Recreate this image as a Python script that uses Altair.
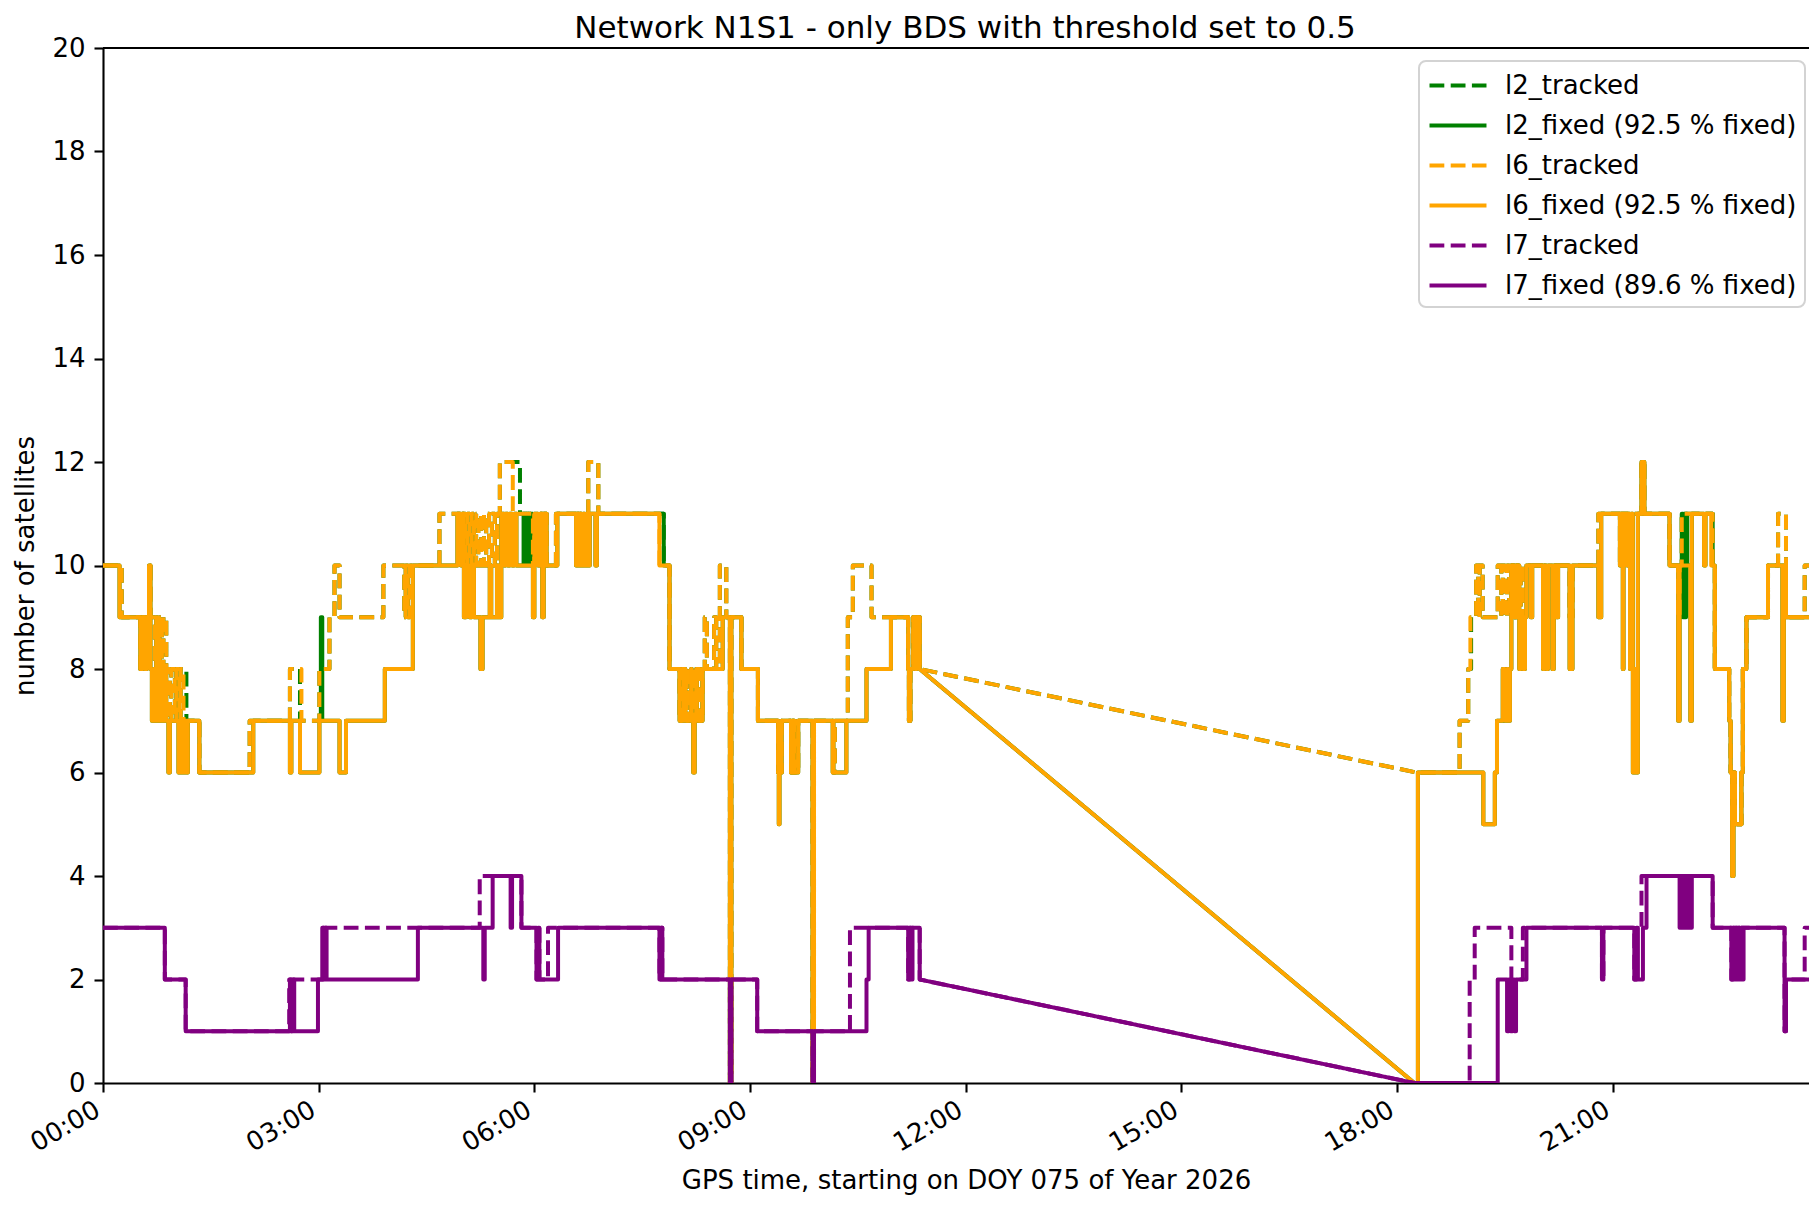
import altair as alt
import pandas as pd

TITLE = "Network N1S1 - only BDS with threshold set to 0.5"
X_TITLE = "GPS time, starting on DOY 075 of Year 2026"
Y_TITLE = "number of satellites"

SERIES = ["l2_tracked", "l2_fixed (92.5 % fixed)", "l6_tracked",
          "l6_fixed (92.5 % fixed)", "l7_tracked", "l7_fixed (89.6 % fixed)"]
COLORS = ["#008000", "#008000", "#ffa500", "#ffa500", "#800080", "#800080"]
DASHES = [[14.8, 6.4], [1, 0], [14.8, 6.4], [1, 0], [14.8, 6.4], [1, 0]]

X_TICKS = [0, 3, 6, 9, 12, 15, 18, 21]
Y_TICKS = list(range(0, 21, 2))
T_END = 23.87          # last epoch (hours)
X_MAX = 23.73          # visible end of the time axis (hours)
MAX_STEP_GAP = 4.0     # longer gaps between epochs are joined by a straight line

# (hour, number of satellites) at each change
L6_FIXED = [
    (0.00, 10), (0.23, 9), (0.52, 8), (0.55, 9), (0.58, 8), (0.61, 9), (0.64, 10), (0.66, 8),
    (0.68, 7), (0.71, 8), (0.73, 7), (0.76, 8), (0.78, 7), (0.81, 8), (0.83, 7), (0.86, 8),
    (0.88, 7), (0.91, 6), (0.93, 7), (1.05, 6), (1.07, 7), (1.11, 6), (1.13, 7), (1.15, 6),
    (1.18, 7), (1.34, 6),
    (2.09, 7), (2.60, 6), (2.62, 7), (2.74, 6), (3.01, 7), (3.29, 6), (3.38, 7), (3.92, 8),
    (4.31, 10), (4.93, 11), (4.98, 10), (5.00, 11), (5.02, 9), (5.05, 10), (5.10, 9), (5.13, 10),
    (5.16, 9), (5.25, 8), (5.28, 9), (5.38, 10), (5.40, 9), (5.48, 10), (5.50, 9), (5.54, 11),
    (5.58, 10), (5.60, 11), (5.63, 10), (5.66, 11), (5.69, 10), (5.72, 11), (5.75, 10), (5.98, 9),
    (6.00, 11), (6.05, 10), (6.08, 11), (6.11, 9), (6.13, 11), (6.17, 10), (6.32, 11),
    (6.58, 10), (6.60, 11), (6.62, 10), (6.64, 11), (6.66, 10), (6.68, 11), (6.70, 10), (6.72, 11),
    (6.74, 10), (6.77, 11), (6.85, 10), (6.87, 11), (7.74, 10), (7.88, 8),
    (8.02, 7), (8.08, 8), (8.10, 7), (8.18, 8), (8.19, 7), (8.21, 6), (8.23, 7), (8.25, 8),
    (8.26, 7), (8.34, 8), (8.62, 9), (8.72, 0), (8.74, 9), (8.88, 8), (9.11, 7), (9.39, 6),
    (9.40, 5), (9.41, 6), (9.44, 7), (9.57, 6), (9.59, 7), (9.61, 6), (9.67, 7), (9.87, 0),
    (9.89, 7), (10.15, 6), (10.34, 7), (10.62, 8), (10.96, 9), (11.20, 8), (11.21, 7), (11.23, 8),
    (11.27, 9), (11.30, 8), (11.32, 9), (11.36, 8),
    (18.24, 0), (18.29, 6), (19.20, 5), (19.36, 6), (19.39, 7), (19.47, 8), (19.50, 7), (19.53, 8),
    (19.55, 7), (19.57, 8), (19.59, 10), (19.63, 9), (19.66, 10), (19.70, 8), (19.72, 9), (19.75, 8),
    (19.78, 9), (19.80, 10), (19.86, 9), (19.88, 10), (20.03, 8), (20.05, 10), (20.08, 8), (20.10, 10),
    (20.16, 8), (20.18, 10), (20.22, 9), (20.24, 10), (20.40, 8), (20.44, 10), (20.80, 9), (20.84, 11),
    (21.10, 10), (21.11, 11), (21.14, 8), (21.15, 11), (21.20, 10), (21.21, 11), (21.24, 8), (21.26, 11),
    (21.28, 6), (21.30, 8), (21.32, 6), (21.35, 11), (21.40, 12), (21.44, 11), (21.79, 10), (21.91, 7),
    (21.93, 10), (22.08, 7), (22.10, 11), (22.27, 10), (22.29, 11), (22.37, 10), (22.42, 8),
    (22.62, 7), (22.64, 6), (22.66, 4), (22.68, 6), (22.70, 5), (22.79, 6), (22.81, 8), (22.86, 9),
    (23.16, 10), (23.36, 7), (23.38, 10), (23.41, 9), (23.80, 10), (23.82, 8), (23.84, 9),
]

L6_TRACKED = [
    (0.00, 10), (0.26, 9), (0.52, 8), (0.55, 9), (0.64, 10), (0.66, 9), (0.72, 8), (0.74, 9),
    (0.77, 8), (0.79, 9), (0.82, 8), (0.84, 9), (0.88, 8), (0.93, 7), (0.95, 8), (1.00, 7),
    (1.02, 8), (1.06, 7), (1.08, 8), (1.12, 7), (1.34, 6),
    (2.04, 7), (2.60, 8), (2.76, 7), (3.01, 8), (3.15, 9), (3.22, 10), (3.29, 9), (3.90, 10),
    (4.19, 9), (4.21, 10), (4.24, 9), (4.27, 10),
    (4.68, 11), (4.96, 10), (5.00, 11), (5.04, 10), (5.07, 11), (5.10, 10), (5.13, 11), (5.16, 10),
    (5.19, 11), (5.22, 10), (5.26, 11), (5.30, 10), (5.33, 11), (5.37, 10), (5.41, 11), (5.45, 10),
    (5.48, 11), (5.52, 12), (5.70, 11), (5.98, 10), (6.00, 11), (6.11, 10), (6.13, 11), (6.17, 10),
    (6.30, 11), (6.75, 12), (6.89, 11), (7.74, 10), (7.88, 8),
    (8.02, 7), (8.05, 8), (8.12, 7), (8.14, 8), (8.21, 7), (8.23, 8), (8.30, 7), (8.34, 8),
    (8.37, 9), (8.40, 8), (8.50, 9), (8.53, 8), (8.58, 10), (8.67, 9), (8.72, 0), (8.74, 9),
    (8.88, 8), (9.11, 7), (9.39, 6), (9.44, 7), (9.57, 6), (9.59, 7), (9.62, 6), (9.67, 7),
    (9.87, 0), (9.89, 7), (10.16, 6), (10.18, 7), (10.36, 9), (10.43, 10), (10.69, 9), (11.20, 8),
    (11.21, 7), (11.23, 8), (11.27, 9), (11.30, 8), (11.32, 9), (11.36, 8),
    (18.27, 6), (18.87, 7), (18.99, 8), (19.02, 9), (19.10, 10), (19.13, 9), (19.15, 10), (19.19, 9),
    (19.40, 10), (19.45, 9), (19.47, 10), (19.50, 9), (19.53, 10), (19.56, 9), (19.59, 10), (19.63, 9),
    (19.66, 10), (19.72, 9), (19.75, 10), (20.03, 9), (20.05, 10), (20.08, 9), (20.10, 10), (20.40, 9),
    (20.44, 10), (20.80, 11), (21.10, 10), (21.12, 11), (21.40, 12), (21.44, 11), (21.79, 10), (21.91, 9),
    (21.93, 10), (21.96, 11), (22.39, 10), (22.42, 8),
    (22.62, 7), (22.64, 6), (22.66, 5), (22.68, 6), (22.70, 5), (22.79, 6), (22.81, 8), (22.86, 9),
    (23.16, 10), (23.30, 11), (23.41, 9), (23.67, 10),
]

L2_FIXED = [
    (0.00, 10), (0.23, 9), (0.52, 8), (0.55, 9), (0.58, 8), (0.61, 9), (0.64, 10), (0.66, 8),
    (0.68, 7), (0.71, 8), (0.73, 7), (0.76, 8), (0.78, 7), (0.81, 8), (0.83, 7), (0.86, 8),
    (0.88, 7), (0.91, 6), (0.93, 7), (1.05, 6), (1.07, 7), (1.11, 6), (1.13, 7), (1.15, 6),
    (1.18, 7), (1.34, 6),
    (2.09, 7), (2.60, 6), (2.62, 7), (2.74, 6), (3.01, 7), (3.03, 9), (3.05, 7), (3.29, 6),
    (3.38, 7), (3.92, 8),
    (4.31, 10), (4.93, 11), (4.98, 10), (5.00, 11), (5.02, 9), (5.05, 10), (5.10, 9), (5.13, 10),
    (5.16, 9), (5.25, 8), (5.28, 9), (5.38, 10), (5.40, 9), (5.48, 10), (5.50, 9), (5.54, 11),
    (5.58, 10), (5.60, 11), (5.63, 10), (5.66, 11), (5.69, 10), (5.72, 11), (5.75, 10),
    (5.85, 11), (5.865, 10), (5.88, 11), (5.895, 10), (5.91, 11), (5.925, 10), (5.94, 11),
    (5.955, 10), (5.97, 11), (5.98, 9),
    (6.00, 11), (6.05, 10), (6.08, 11), (6.11, 9), (6.13, 11), (6.17, 10), (6.32, 11),
    (6.58, 10), (6.60, 11), (6.62, 10), (6.64, 11), (6.66, 10), (6.68, 11), (6.70, 10), (6.72, 11),
    (6.74, 10), (6.77, 11), (6.85, 10), (6.87, 11), (7.80, 10), (7.88, 8),
    (8.02, 7), (8.08, 8), (8.10, 7), (8.18, 8), (8.19, 7), (8.21, 6), (8.23, 7), (8.25, 8),
    (8.26, 7), (8.34, 8), (8.62, 9), (8.72, 0), (8.74, 9), (8.88, 8), (9.11, 7), (9.39, 6),
    (9.40, 5), (9.41, 6), (9.44, 7), (9.57, 6), (9.59, 7), (9.61, 6), (9.67, 7), (9.87, 0),
    (9.89, 7), (10.15, 6), (10.34, 7), (10.62, 8), (10.96, 9), (11.20, 8), (11.21, 7), (11.23, 8),
    (11.27, 9), (11.30, 8), (11.32, 9), (11.36, 8),
    (18.24, 0), (18.29, 6), (19.20, 5), (19.36, 6), (19.39, 7), (19.47, 8), (19.50, 7), (19.53, 8),
    (19.55, 7), (19.57, 8), (19.59, 10), (19.63, 9), (19.66, 10), (19.70, 8), (19.72, 9), (19.75, 8),
    (19.78, 9), (19.80, 10), (19.86, 9), (19.88, 10), (20.03, 8), (20.05, 10), (20.08, 8), (20.10, 10),
    (20.16, 8), (20.18, 10), (20.22, 9), (20.24, 10), (20.40, 8), (20.44, 10), (20.80, 9), (20.84, 11),
    (21.10, 10), (21.11, 11), (21.14, 8), (21.15, 11), (21.20, 10), (21.21, 11), (21.24, 8), (21.26, 11),
    (21.28, 6), (21.30, 8), (21.32, 6), (21.35, 11), (21.40, 12), (21.44, 11), (21.79, 10), (21.91, 7),
    (21.93, 10), (21.96, 11), (21.975, 9), (21.99, 11), (22.005, 9), (22.02, 11), (22.035, 10),
    (22.08, 7), (22.10, 11), (22.27, 10), (22.29, 11), (22.39, 10), (22.42, 8),
    (22.62, 7), (22.64, 6), (22.66, 4), (22.68, 6), (22.70, 5), (22.79, 6), (22.81, 8), (22.86, 9),
    (23.16, 10), (23.36, 7), (23.38, 10), (23.41, 9), (23.80, 10), (23.82, 8), (23.84, 9),
]

L2_TRACKED = [
    (0.00, 10), (0.26, 9), (0.52, 8), (0.55, 9), (0.64, 10), (0.66, 9), (0.72, 8), (0.74, 9),
    (0.77, 8), (0.79, 9), (0.82, 8), (0.84, 9), (0.88, 8), (0.93, 7), (0.95, 8), (1.00, 7),
    (1.02, 8), (1.06, 7), (1.08, 8), (1.16, 7), (1.34, 6),
    (2.04, 7), (2.60, 8), (2.74, 7), (3.01, 8), (3.15, 9), (3.22, 10), (3.29, 9), (3.90, 10),
    (4.19, 9), (4.21, 10), (4.24, 9), (4.27, 10),
    (4.68, 11), (4.96, 10), (5.00, 11), (5.04, 10), (5.07, 11), (5.10, 10), (5.13, 11), (5.16, 10),
    (5.19, 11), (5.22, 10), (5.26, 11), (5.30, 10), (5.33, 11), (5.37, 10), (5.41, 11), (5.45, 10),
    (5.48, 11), (5.52, 12), (5.80, 11), (5.98, 10), (6.00, 11), (6.11, 10), (6.13, 11), (6.17, 10),
    (6.30, 11), (6.75, 12), (6.89, 11), (7.80, 10), (7.88, 8),
    (8.02, 7), (8.05, 8), (8.12, 7), (8.14, 8), (8.21, 7), (8.23, 8), (8.30, 7), (8.34, 8),
    (8.37, 9), (8.40, 8), (8.50, 9), (8.53, 8), (8.58, 10), (8.67, 9), (8.72, 0), (8.74, 9),
    (8.88, 8), (9.11, 7), (9.39, 6), (9.44, 7), (9.57, 6), (9.59, 7), (9.62, 6), (9.67, 7),
    (9.87, 0), (9.89, 7), (10.16, 6), (10.18, 7), (10.36, 9), (10.43, 10), (10.69, 9), (11.20, 8),
    (11.21, 7), (11.23, 8), (11.27, 9), (11.30, 8), (11.32, 9), (11.36, 8),
    (18.27, 6), (18.87, 7), (18.99, 8), (19.03, 9), (19.10, 10), (19.13, 9), (19.15, 10), (19.19, 9),
    (19.40, 10), (19.45, 9), (19.47, 10), (19.50, 9), (19.53, 10), (19.56, 9), (19.59, 10), (19.63, 9),
    (19.66, 10), (19.72, 9), (19.75, 10), (20.03, 9), (20.05, 10), (20.08, 9), (20.10, 10), (20.40, 9),
    (20.44, 10), (20.80, 11), (21.10, 10), (21.12, 11), (21.40, 12), (21.44, 11), (21.79, 10), (21.91, 9),
    (21.93, 10), (21.96, 11), (22.39, 10), (22.42, 8),
    (22.62, 7), (22.64, 6), (22.66, 5), (22.68, 6), (22.70, 5), (22.79, 6), (22.81, 8), (22.86, 9),
    (23.16, 10), (23.30, 11), (23.41, 9), (23.67, 10),
]

L7_FIXED = [
    (0.00, 3), (0.86, 2), (1.15, 1), (2.60, 2), (2.62, 1), (2.64, 2), (2.66, 1), (2.99, 2),
    (3.05, 3), (3.07, 2), (3.09, 3), (3.11, 2), (4.38, 3), (5.29, 2), (5.31, 3), (5.42, 4),
    (5.67, 3), (5.69, 4), (5.82, 3), (6.03, 2), (6.05, 3), (6.07, 2), (6.33, 3), (7.74, 2),
    (7.76, 3), (7.78, 2), (8.72, 0), (8.74, 2), (9.10, 1), (9.87, 0), (9.89, 1), (10.62, 2),
    (10.65, 3), (11.20, 2), (11.22, 3), (11.24, 2), (11.26, 3), (11.36, 2),
    (18.24, 0), (19.40, 2), (19.53, 1), (19.555, 2), (19.58, 1), (19.605, 2), (19.63, 1),
    (19.655, 2), (19.80, 3), (20.85, 2), (20.87, 3), (21.30, 2), (21.33, 3), (21.35, 2),
    (21.42, 3), (21.47, 4), (21.93, 3), (21.95, 4), (21.97, 3), (21.99, 4), (22.01, 3),
    (22.03, 4), (22.05, 3), (22.07, 4), (22.09, 3), (22.10, 4), (22.39, 3), (22.65, 2),
    (22.67, 3), (22.69, 2), (22.71, 3), (22.73, 2), (22.75, 3), (22.77, 2), (22.79, 3),
    (22.81, 2), (22.82, 3), (23.39, 1), (23.41, 2),
]

L7_TRACKED = [
    (0.00, 3), (0.86, 2), (1.15, 1), (2.59, 2), (2.62, 1), (2.64, 2), (3.06, 3), (5.24, 4),
    (5.82, 3), (6.03, 2), (6.05, 3), (6.07, 2), (6.19, 3), (7.74, 2), (7.76, 3), (7.78, 2),
    (8.72, 0), (8.74, 2), (9.10, 1), (9.87, 0), (9.89, 1), (10.39, 3), (11.20, 2), (11.22, 3),
    (11.36, 2),
    (18.24, 0), (19.01, 2), (19.08, 3), (19.59, 2), (19.75, 3), (20.85, 2), (20.87, 3),
    (21.30, 2), (21.33, 3), (21.40, 4), (22.39, 3), (22.65, 2), (22.67, 3), (22.77, 2),
    (22.79, 3), (23.39, 1), (23.41, 2), (23.67, 3),
]

SERIES_POINTS = [L2_TRACKED, L2_FIXED, L6_TRACKED, L6_FIXED, L7_TRACKED, L7_FIXED]


def vertices(points):
    """Epoch values are held until the next change; long data gaps are joined straight."""
    out = []
    for i, (t, v) in enumerate(points):
        if i > 0:
            tp, vp = points[i - 1]
            if t - tp <= MAX_STEP_GAP:
                out.append((t, vp))
        out.append((t, v))
    out.append((T_END, points[-1][1]))
    return out


W, H = 1706, 1035

color_scale = alt.Scale(domain=SERIES, range=COLORS)
dash_scale = alt.Scale(domain=SERIES, range=DASHES)
legend = alt.Legend(title=None, orient="none", legendX=1316, legendY=13,
                    symbolType="M-2,0L2,0", symbolSize=812, symbolStrokeWidth=4,
                    symbolFillColor="transparent", symbolOffset=14.5,
                    labelFontSize=26, labelFont="DejaVu Sans", labelColor="black",
                    labelOffset=30.5, rowPadding=10, padding=8, labelLimit=600,
                    fillColor="rgba(255,255,255,0.8)", strokeColor="#d3d3d3",
                    cornerRadius=7)

x_enc = alt.X("t:Q", scale=alt.Scale(domain=[0, X_MAX], nice=False, zero=False),
              axis=alt.Axis(values=X_TICKS, title=X_TITLE,
                            labelExpr="(datum.value < 10 ? '0' : '') + datum.value + ':00'",
                            labelAngle=330, labelAlign="right", labelBaseline="top",
                            labelPadding=4, labelOffset=-12,
                            titleX=863, titleY=97, titleBaseline="middle"))
y_enc = alt.Y("v:Q", scale=alt.Scale(domain=[0, 20], nice=False),
              axis=alt.Axis(values=Y_TICKS, title=Y_TITLE, labelPadding=9,
                            titleX=-78, titleY=H / 2, titleBaseline="middle",
                            titleAlign="center"))

layers = []
for name, pts in zip(SERIES, SERIES_POINTS):
    verts = vertices(pts)
    df = pd.DataFrame({"t": [p[0] for p in verts], "v": [p[1] for p in verts],
                       "i": list(range(len(verts))), "series": name})
    layers.append(
        alt.Chart(df).mark_line(strokeWidth=4, strokeJoin="round", strokeCap="butt", clip=True)
        .encode(x=x_enc, y=y_enc, order=alt.Order("i:Q"),
                color=alt.Color("series:N", scale=color_scale, legend=legend),
                strokeDash=alt.StrokeDash("series:N", scale=dash_scale, legend=legend))
    )

top_spine = alt.Chart(pd.DataFrame({"z": [0]})).mark_rule(color="black", strokeWidth=2.1).encode(
    x=alt.value(0), x2=alt.value(W), y=alt.value(0))

chart = alt.layer(*layers, top_spine).properties(
    width=W, height=H,
    title=alt.TitleParams(TITLE, fontSize=31, font="DejaVu Sans", fontWeight="normal",
                          color="black", anchor="middle", frame="group", offset=-10, dx=9),
    autosize=alt.AutoSizeParams(type="none"),
    padding={"left": 95, "top": 40, "right": 0, "bottom": 112},
).configure_view(stroke=None).configure_axis(
    labelFont="DejaVu Sans", labelFontSize=26, labelColor="black",
    titleFont="DejaVu Sans", titleFontSize=26, titleFontWeight="normal", titleColor="black",
    domainColor="black", domainWidth=2.1, tickColor="black", tickWidth=2.1, tickSize=9,
    grid=False,
).configure_legend(strokeWidth=2)

chart.save("out.html", embed_options={"renderer": "svg", "actions": False})
